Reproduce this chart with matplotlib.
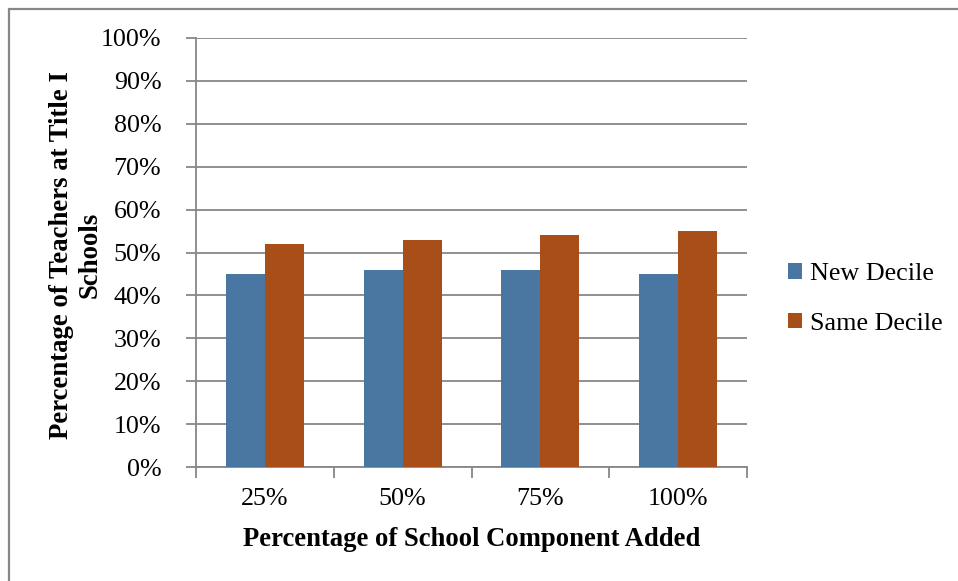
import matplotlib
matplotlib.use("Agg")
import matplotlib.pyplot as plt
from matplotlib.patches import Rectangle
import numpy as np

plt.rcParams['font.family'] = ['Liberation Serif', 'DejaVu Serif']

categories = ['25%', '50%', '75%', '100%']
new_decile = [45, 46, 46, 45]
same_decile = [52, 53, 54, 55]
y_ticks = [0, 10, 20, 30, 40, 50, 60, 70, 80, 90, 100]

blue = '#4A77A2'
orange = '#A84E18'
gray = '#878787'

W, H = 958, 581
fig = plt.figure(figsize=(W / 100, H / 100), dpi=100)
ax = fig.add_axes([196 / W, (H - 467) / H, (747 - 196) / W, (467 - 38) / H])

x = np.arange(len(categories))
bw = 0.284
ax.bar(x - bw / 2, new_decile, bw, color=blue, label='New Decile', zorder=3)
ax.bar(x + bw / 2, same_decile, bw, color=orange, label='Same Decile', zorder=3)

ax.set_xlim(-0.5, len(categories) - 0.5)
ax.set_ylim(0, 100)
ax.set_yticks(y_ticks)
ax.set_yticklabels(['%d%%' % v for v in y_ticks])
ax.yaxis.grid(True, color=gray, lw=1.3, zorder=0)

ax.set_xticks(x)
ax.set_xticklabels(categories)
ax.set_xticks(np.arange(len(categories) + 1) - 0.5, minor=True)
ax.tick_params(axis='x', which='major', length=0, labelsize=18.7, pad=15)
ax.tick_params(axis='x', which='minor', length=8, width=1.3, color=gray, direction='out')
ax.tick_params(axis='y', length=7, width=1.3, color=gray, labelsize=18.7, pad=18)

for s in ['top', 'right']:
    ax.spines[s].set_visible(False)
for s in ['left', 'bottom']:
    ax.spines[s].set_color(gray)
    ax.spines[s].set_linewidth(1.3)

ax.set_xlabel('Percentage of School Component Added', fontsize=19.2,
              fontweight='bold', labelpad=12)
fig.text(76 / W, (H - 255) / H, 'Percentage of Teachers at Title I\nSchools',
         rotation=90, ha='center', va='center', fontsize=19.3,
         fontweight='bold', linespacing=1.2, multialignment='center')

ax.legend(loc='center left', bbox_to_anchor=(788 / W, (H - 299) / H),
          bbox_transform=fig.transFigure, frameon=False, fontsize=18.8,
          borderpad=0, borderaxespad=0,
          handlelength=0.55, handleheight=0.55, handletextpad=0.3,
          labelspacing=1.05)

fig.patches.append(Rectangle((9 / W, -0.1), 1.2, (H - 9) / H + 0.1,
                             transform=fig.transFigure, fill=False,
                             edgecolor=gray, lw=1.6))

fig.savefig('out.png', dpi=100, facecolor='white')
